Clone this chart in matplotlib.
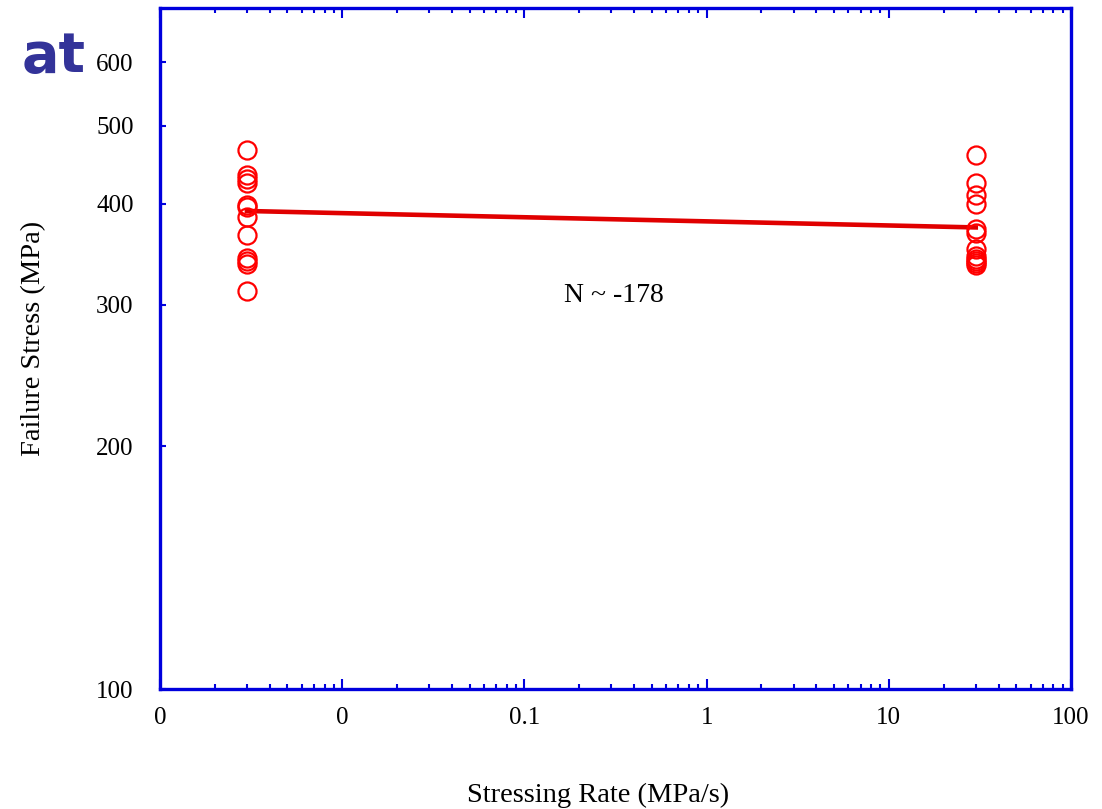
import matplotlib
matplotlib.use("Agg")
import matplotlib.pyplot as plt
from matplotlib.ticker import FixedLocator, FixedFormatter, NullLocator, LogLocator

# rates (MPa/s) and failure stresses (MPa)
rate_low = 0.003
stress_low = [467, 435, 430, 425, 399, 396, 385, 366, 343, 340, 337, 312]
rate_high = 30
stress_high = [460, 425, 410, 400, 372, 368, 352, 345, 342, 340, 338, 336]

# fitted power-law line (straight on log-log), end points
fit_rate = [0.003, 30]
fit_stress = [392, 374]
fit_label = "N ~ -178"

xticks = [0.001, 0.01, 0.1, 1, 10, 100]
xtick_labels = ["0", "0", "0.1", "1", "10", "100"]
yticks = [100, 200, 300, 400, 500, 600]
ytick_labels = ["100", "200", "300", "400", "500", "600"]

blue = "#0000dd"
serif = ["Liberation Serif", "DejaVu Serif"]

fig = plt.figure(figsize=(11.02, 8.09), dpi=100)
ax = fig.add_axes([0.1452, 0.1483, 0.8267, 0.8417])

ax.plot([rate_low] * len(stress_low), stress_low, "o", ms=13, mfc="none",
        mec="#ff0000", mew=1.6, zorder=3)
ax.plot([rate_high] * len(stress_high), stress_high, "o", ms=13, mfc="none",
        mec="#ff0000", mew=1.6, zorder=3)
ax.plot(fit_rate, fit_stress, "-", color="#e00000", lw=3.3, zorder=2)

ax.text(0.31, 308, fit_label, ha="center", va="center", fontsize=20, family=serif)

ax.set_xscale("log")
ax.set_yscale("log")
ax.set_xlim(0.001, 100)
ax.set_ylim(100, 700)

ax.xaxis.set_major_locator(FixedLocator(xticks))
ax.xaxis.set_major_formatter(FixedFormatter(xtick_labels))
ax.xaxis.set_minor_locator(LogLocator(base=10, subs=range(2, 10), numticks=20))
ax.xaxis.set_minor_formatter(FixedFormatter([]))
ax.yaxis.set_major_locator(FixedLocator(yticks))
ax.yaxis.set_major_formatter(FixedFormatter(ytick_labels))
ax.yaxis.set_minor_locator(NullLocator())

for s in ax.spines.values():
    s.set_color(blue)
    s.set_linewidth(2.4)

ax.tick_params(axis="x", which="major", direction="in", length=7, width=1.5,
               color=blue, top=True, labelsize=18, pad=13)
ax.tick_params(axis="x", which="minor", direction="in", length=3.6, width=1.5,
               color=blue, top=True)
ax.tick_params(axis="y", which="major", direction="in", length=4, width=1.5,
               color=blue, right=False, labelsize=18, pad=19)
for lab in ax.get_xticklabels() + ax.get_yticklabels():
    lab.set_family(serif)

ax.set_xlabel("Stressing Rate (MPa/s)", fontsize=20.5, family=serif)
ax.set_ylabel("Failure Stress (MPa)", fontsize=20.5, family=serif)
ax.xaxis.set_label_coords(0.481, -0.138)
ax.yaxis.set_label_coords(-0.125, 0.515)

fig.text(0.02, 0.911, "at", color="#333399", fontsize=40, fontweight="bold",
         family=["DejaVu Sans"], va="baseline")

fig.savefig("out.png", dpi=100)
